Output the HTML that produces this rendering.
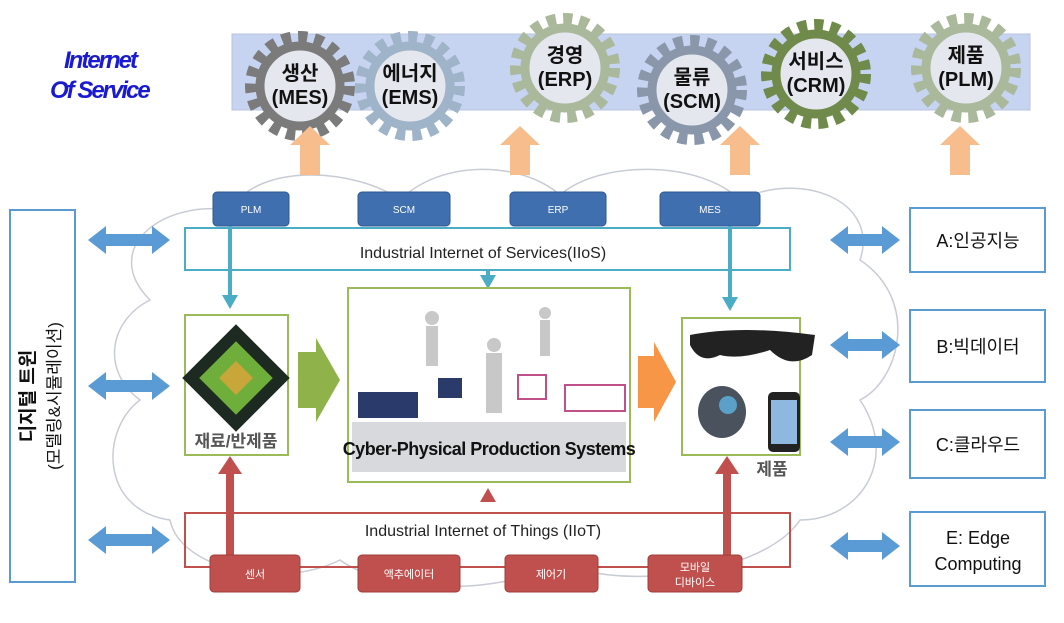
<!DOCTYPE html><html><head><meta charset="utf-8"><style>
body{margin:0;background:#fff;width:1064px;height:618px;overflow:hidden;font-family:"Liberation Sans","Noto Sans CJK KR",sans-serif}
</style></head><body>
<svg width="1064" height="618" viewBox="0 0 1064 618" xmlns="http://www.w3.org/2000/svg" font-family="Liberation Sans, Noto Sans CJK KR, sans-serif">
<defs>
<marker id="ta" markerUnits="userSpaceOnUse" markerWidth="16" markerHeight="16" refX="10" refY="8" orient="auto"><path d="M0,0L14,8L0,16z" fill="#4bacc6"/></marker>
</defs>
<g fill="none" stroke="#c8ccd4" stroke-width="1.5">
<path d="M150,300 C100,250 160,200 230,210 C260,160 360,170 400,200 C440,160 520,160 560,195 C600,160 700,160 740,200 C800,170 880,200 860,260 C920,300 900,380 860,400 C900,460 860,520 800,520 C760,580 600,590 560,560 C500,600 380,590 340,560 C280,590 180,570 170,520 C100,510 100,430 140,400 C100,370 110,320 150,300 Z"/>
</g>
<rect x="232" y="34" width="798" height="76" fill="#c6d3f1" stroke="#b9c4dc"/>
<text x="64" y="68" font-size="24" font-style="italic" font-weight="bold" fill="#1a1ad0" letter-spacing="-2">Internet</text>
<text x="50" y="98" font-size="24" font-style="italic" font-weight="bold" fill="#1a1ad0" letter-spacing="-2">Of Service</text>
<g font-weight="bold" font-size="20" text-anchor="middle" fill="#111">
<g transform="translate(300,86)"><circle r="48" fill="none" stroke="#7b7b7b" stroke-width="14" stroke-dasharray="9 7"/><circle r="40" fill="#e4e7ee" stroke="#7b7b7b" stroke-width="9"/><text y="-6">생산</text><text y="18">(MES)</text></g>
<g transform="translate(410,86)"><circle r="48" fill="none" stroke="#9fb3c9" stroke-width="14" stroke-dasharray="9 7"/><circle r="40" fill="#e4e7ee" stroke="#9fb3c9" stroke-width="9"/><text y="-6">에너지</text><text y="18">(EMS)</text></g>
<g transform="translate(565,68)"><circle r="48" fill="none" stroke="#aab89b" stroke-width="14" stroke-dasharray="9 7"/><circle r="40" fill="#e4e7ee" stroke="#aab89b" stroke-width="9"/><text y="-6">경영</text><text y="18">(ERP)</text></g>
<g transform="translate(692,90)"><circle r="48" fill="none" stroke="#8a97ab" stroke-width="14" stroke-dasharray="9 7"/><circle r="40" fill="#e4e7ee" stroke="#8a97ab" stroke-width="9"/><text y="-6">물류</text><text y="18">(SCM)</text></g>
<g transform="translate(816,74)"><circle r="48" fill="none" stroke="#6f8a4a" stroke-width="14" stroke-dasharray="9 7"/><circle r="40" fill="#e4e7ee" stroke="#6f8a4a" stroke-width="9"/><text y="-6">서비스</text><text y="18">(CRM)</text></g>
<g transform="translate(966,68)"><circle r="48" fill="none" stroke="#aab89b" stroke-width="14" stroke-dasharray="9 7"/><circle r="40" fill="#e4e7ee" stroke="#aab89b" stroke-width="9"/><text y="-6">제품</text><text y="18">(PLM)</text></g>
</g>
<g fill="#f7bd8c">
<path d="M300,175V145H290L310,126L330,145H320V175Z"/>
<path d="M510,175V145H500L520,126L540,145H530V175Z"/>
<path d="M730,175V145H720L740,126L760,145H750V175Z"/>
<path d="M950,175V145H940L960,126L980,145H970V175Z"/>
</g>
<rect x="185" y="228" width="605" height="42" fill="none" stroke="#4bacc6" stroke-width="2"/>
<text x="483" y="258" font-size="16" text-anchor="middle" fill="#222">Industrial Internet of Services(IIoS)</text>
<g fill="#3f6fae" stroke="#2f5a92"><rect x="213" y="192" width="76" height="34" rx="4"/><rect x="358" y="192" width="92" height="34" rx="4"/><rect x="510" y="192" width="96" height="34" rx="4"/><rect x="660" y="192" width="100" height="34" rx="4"/></g>
<g fill="#fff" font-size="10" text-anchor="middle"><text x="251" y="213">PLM</text><text x="404" y="213">SCM</text><text x="558" y="213">ERP</text><text x="710" y="213">MES</text></g>
<g stroke="#4bacc6" stroke-width="4" marker-end="url(#ta)"><line x1="230" y1="226" x2="230" y2="305"/><line x1="730" y1="226" x2="730" y2="307"/><line x1="488" y1="270" x2="488" y2="285"/></g>
<rect x="10" y="210" width="65" height="372" fill="#fff" stroke="#5b9bd5" stroke-width="2"/>
<text transform="translate(34,396) rotate(-90)" font-size="19" text-anchor="middle" font-weight="bold" fill="#111">디지털 트윈</text>
<text transform="translate(60,396) rotate(-90)" font-size="17" text-anchor="middle" fill="#111">(모델링&amp;시뮬레이션)</text>
<g fill="#fff" stroke="#5b9bd5" stroke-width="2"><rect x="910" y="208" width="135" height="64"/><rect x="910" y="310" width="135" height="72"/><rect x="910" y="410" width="135" height="68"/><rect x="910" y="512" width="135" height="74"/></g>
<g font-size="18" text-anchor="middle" fill="#111"><text x="978" y="247">A:인공지능</text><text x="978" y="353">B:빅데이터</text><text x="978" y="451">C:클라우드</text><text x="978" y="544">E: Edge</text><text x="978" y="570">Computing</text></g>
<g fill="#5b9bd5">
<path d="M88,240l18,-14v8h46v-8l18,14l-18,14v-8h-46v8z"/>
<path d="M88,386l18,-14v8h46v-8l18,14l-18,14v-8h-46v8z"/>
<path d="M88,540l18,-14v8h46v-8l18,14l-18,14v-8h-46v8z"/>
<path d="M830,240l18,-14v8h34v-8l18,14l-18,14v-8h-34v8z"/>
<path d="M830,345l18,-14v8h34v-8l18,14l-18,14v-8h-34v8z"/>
<path d="M830,442l18,-14v8h34v-8l18,14l-18,14v-8h-34v8z"/>
<path d="M830,546l18,-14v8h34v-8l18,14l-18,14v-8h-34v8z"/>
</g>
<rect x="185" y="315" width="103" height="140" fill="#fff" stroke="#9bbb59" stroke-width="2"/>
<g transform="translate(236,378) rotate(45)"><rect x="-38" y="-38" width="76" height="76" fill="#1d2a22"/><rect x="-26" y="-26" width="52" height="52" fill="#6fae3a"/><rect x="-12" y="-12" width="24" height="24" fill="#c9a63a"/></g>
<text x="236" y="447" font-size="17" font-weight="bold" text-anchor="middle" fill="#555">재료/반제품</text>
<rect x="348" y="288" width="282" height="194" fill="#fff" stroke="#9bbb59" stroke-width="2"/>
<g fill="#c8c8c8"><circle cx="432" cy="318" r="7"/><rect x="426" y="326" width="12" height="40"/><circle cx="494" cy="345" r="7"/><rect x="486" y="353" width="16" height="60"/><circle cx="545" cy="313" r="6"/><rect x="540" y="320" width="10" height="36"/><rect x="352" y="422" width="274" height="50" fill="#d8d9dc"/></g>
<g fill="#2a3b6b"><rect x="358" y="392" width="60" height="26"/><rect x="438" y="378" width="24" height="20"/></g>
<g fill="none" stroke="#c0508a" stroke-width="2"><rect x="518" y="375" width="28" height="24"/><rect x="565" y="385" width="60" height="26"/></g>
<text x="489" y="455" font-size="18" font-weight="bold" text-anchor="middle" fill="#111" letter-spacing="-0.5">Cyber-Physical Production Systems</text>
<path d="M298,352h18v-14l24,42l-24,42v-14h-18z" fill="#8fb34a"/>
<path d="M638,356h16v-14l22,40l-22,40v-14h-16z" fill="#f79646"/>
<rect x="682" y="318" width="118" height="137" fill="#fff" stroke="#9bbb59" stroke-width="2"/>
<path d="M690,335 Q740,325 815,335 L812,355 Q790,370 770,350 Q740,360 720,355 Q700,365 690,345z" fill="#222"/>
<ellipse cx="722" cy="412" rx="24" ry="26" fill="#4a525e"/><circle cx="728" cy="405" r="9" fill="#5aa0c8"/>
<rect x="768" y="392" width="32" height="60" rx="5" fill="#222"/><rect x="771" y="400" width="26" height="44" fill="#8fb8e0"/>
<text x="772" y="475" font-size="17" font-weight="bold" text-anchor="middle" fill="#555">제품</text>
<rect x="185" y="513" width="605" height="54" fill="none" stroke="#c0504d" stroke-width="2"/>
<text x="483" y="536" font-size="16" text-anchor="middle" fill="#222">Industrial Internet of Things (IIoT)</text>
<path d="M480,502l8,-14l8,14z" fill="#c0504d"/>
<g fill="#c0504d"><rect x="226" y="470" width="8" height="88"/><path d="M218,474l12,-18l12,18z"/><rect x="723" y="470" width="8" height="88"/><path d="M715,474l12,-18l12,18z"/></g>
<g fill="#c0504d" stroke="#a03c3a"><rect x="210" y="555" width="90" height="37" rx="4"/><rect x="358" y="555" width="102" height="37" rx="4"/><rect x="505" y="555" width="93" height="37" rx="4"/><rect x="648" y="555" width="94" height="37" rx="4"/></g>
<g fill="#fff" font-size="11" text-anchor="middle"><text x="255" y="578">센서</text><text x="409" y="578">액추에이터</text><text x="551" y="578">제어기</text><text x="695" y="571">모바일</text><text x="695" y="586">디바이스</text></g>
</svg>
</body></html>
